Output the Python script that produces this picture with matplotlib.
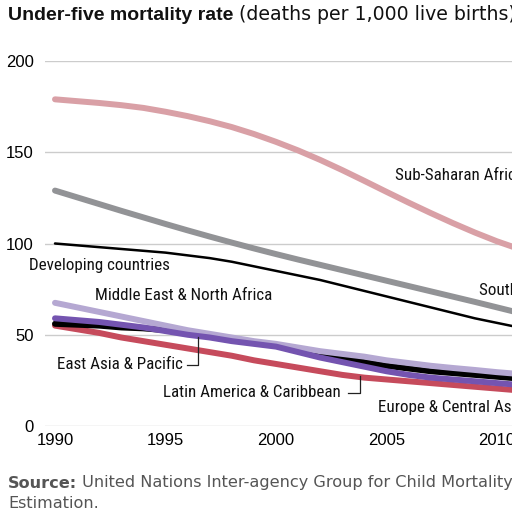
import matplotlib
matplotlib.use("Agg")
import matplotlib.pyplot as plt
from matplotlib import font_manager
from matplotlib.font_manager import FontProperties

years = list(range(1990, 2013))

sub_saharan = [179, 178, 177, 175.8, 174.3, 172.2, 169.8, 167, 163.8, 160, 155.7, 151,
               145.8, 140.2, 134.3, 128.3, 122.4, 116.7, 111.2, 106, 101.2, 97, 93]
south_asia = [129, 125.3, 121.6, 117.9, 114.3, 110.7, 107.2, 103.8, 100.5, 97.3, 94.2, 91.2,
              88.3, 85.4, 82.5, 79.6, 76.7, 73.8, 70.9, 68, 65, 62, 59.2]
developing = [100, 99, 98, 97, 96, 95, 93.5, 92, 90, 87.5, 85, 82.5,
              80, 77, 74, 71, 68, 65, 62, 59, 56.5, 54, 52]
mena = [67.5, 65, 62.5, 60, 57.5, 55, 52.5, 50.5, 48.5, 46.5, 45, 43,
        41, 39.5, 38, 36, 34.5, 33, 31.8, 30.7, 29.5, 28.5, 27.5]
east_asia = [59, 58, 57, 55.5, 54, 52, 50, 48.5, 46.5, 45, 43.5, 40.5,
             37.5, 35, 32.5, 30, 28, 26.5, 25.5, 24.5, 23.5, 22.5, 21.5]
europe_ca = [56, 55.5, 55, 54, 53.5, 52.5, 51, 49.5, 48, 46, 44.5, 42,
             39.5, 37, 35, 33, 31.5, 30, 29, 28, 27, 26, 25]
latin_am = [55, 53, 51, 48.5, 46.5, 44.5, 42.5, 40.5, 38.5, 36, 34, 32,
            30, 28, 26.5, 25.5, 24.5, 23.5, 22.5, 21.5, 20.5, 19.5, 18.5]

xticks = [1990, 1995, 2000, 2005, 2010]
yticks = [0, 50, 100, 150, 200]

base = "Liberation Sans"
wide = "DejaVu Sans"

# pick a condensed face if one is installed
cond_fp = None
entries = font_manager.fontManager.ttflist
for pref in ["Liberation Sans Narrow", "Roboto Condensed", "Open Sans Condensed",
             "Noto Sans Condensed"]:
    if any(e.name == pref for e in entries):
        cond_fp = FontProperties(family=pref)
        break
if cond_fp is None:
    for nm in ["Noto Sans", "Open Sans", "Roboto", "DejaVu Sans"]:
        hits = [e for e in entries if e.name == nm and str(e.stretch) in
                ("condensed", "semi-condensed", "extra-condensed", "75", "87.5")
                and e.weight in (400, "normal", "regular")]
        if hits:
            cond_fp = FontProperties(family=nm, stretch=hits[0].stretch)
            break
if cond_fp is None:
    cond_fp = FontProperties(family="Roboto")

fig = plt.figure(figsize=(5.12, 5.12), dpi=100)
W = H = 512.0
x0_px, px_per_year = 45.0, 22.1
xmin = 1990 - (55 - x0_px) / px_per_year
xmax = 2013
ax = fig.add_axes([x0_px / W, 86 / H, (xmax - xmin) * px_per_year / W, 365 / H])
ax.set_xlim(xmin, xmax)
ax.set_ylim(0, 200)

for y in yticks:
    ax.axhline(y, color="#cccccc", lw=1.0, zorder=0)

lw = 4.3
ax.plot(years, sub_saharan, color="#d9a0a6", lw=lw, solid_capstyle="round", solid_joinstyle="round", zorder=2)
ax.plot(years, south_asia, color="#929396", lw=lw, solid_capstyle="round", solid_joinstyle="round", zorder=2)
ax.plot(years, developing, color="#000000", lw=1.8, solid_capstyle="round", solid_joinstyle="round", zorder=3)
ax.plot(years, latin_am, color="#c64b5c", lw=lw, solid_capstyle="round", solid_joinstyle="round", zorder=2)
ax.plot(years, europe_ca, color="#000000", lw=lw, solid_capstyle="round", solid_joinstyle="round", zorder=3)
ax.plot(years, east_asia, color="#7454b0", lw=lw, solid_capstyle="round", solid_joinstyle="round", zorder=4)
ax.plot(years, mena, color="#b5a8d2", lw=lw, solid_capstyle="round", solid_joinstyle="round", zorder=3.5)

for s in ax.spines.values():
    s.set_visible(False)
ax.set_xticks(xticks)
ax.set_xticklabels([str(t) for t in xticks], fontsize=12, family=base)
ax.set_yticks(yticks)
ax.set_yticklabels([str(t) for t in yticks], fontsize=12, family=base)
ax.tick_params(length=0)
ax.tick_params(axis="y", pad=8)
ax.tick_params(axis="x", pad=5)

# fit label font size so "Developing countries" is ~141 px wide
renderer = fig.canvas.get_renderer()
probe = fig.text(0, 0, "Developing countries", fontproperties=cond_fp, fontsize=12)
w = probe.get_window_extent(renderer).width
probe.remove()
lab_size = 12 * 141.0 / w

lab = dict(fontproperties=cond_fp, color="#111111", va="center", ha="left", zorder=6)
def px2yr(px):
    return 1990 + (px - 55) / px_per_year
texts = [ax.text(px2yr(395), 137, "Sub-Saharan Africa", **lab),
         ax.text(px2yr(29), 88, "Developing countries", **lab),
         ax.text(px2yr(95), 71.4, "Middle East & North Africa", **lab),
         ax.text(px2yr(479), 74, "South Asia", **lab),
         ax.text(px2yr(57), 33.8, "East Asia & Pacific", **lab),
         ax.text(px2yr(163), 18.2, "Latin America & Caribbean", **lab),
         ax.text(px2yr(378), 10, "Europe & Central Asia", **lab)]
for t in texts:
    t.set_fontsize(lab_size)

# leader lines
ax.plot([px2yr(187), px2yr(198), px2yr(198)], [33.6, 33.6, 49], color="#222222", lw=0.9, zorder=5)
ax.plot([px2yr(348), px2yr(360), px2yr(360)], [18.0, 18.0, 27.4], color="#222222", lw=0.9, zorder=5)

t1 = fig.text(8 / W, 1 - 15 / H, "Under-five mortality rate", fontsize=14, weight="bold",
              family=base, va="center", ha="left", color="#111111")
fig.canvas.draw()
ax.annotate(" (deaths per 1,000 live births)", xy=(1, 0.5), xycoords=t1, va="center",
            ha="left", fontsize=13.6, family=wide, color="#111111", annotation_clip=False)

s1 = fig.text(8 / W, 1 - 483 / H, "Source:", fontsize=11.6, weight="bold", family=wide,
              va="center", ha="left", color="#555555")
ax.annotate(" United Nations Inter-agency Group for Child Mortality", xy=(1, 0.5), xycoords=s1,
            va="center", ha="left", fontsize=11.6, family=wide, color="#555555",
            annotation_clip=False)
fig.text(8 / W, 1 - 503 / H, "Estimation.", fontsize=11.6, family=wide, va="center",
         ha="left", color="#555555")

fig.savefig("out.png", dpi=100)
